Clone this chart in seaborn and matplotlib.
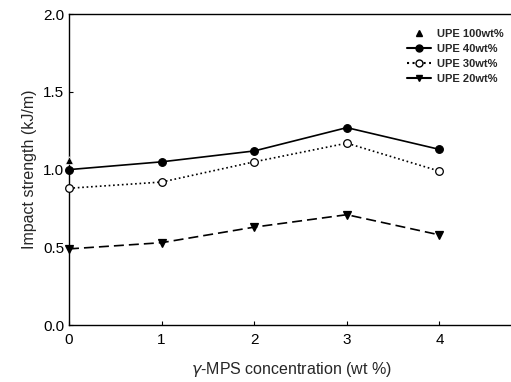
import matplotlib
matplotlib.use("Agg")
import matplotlib.pyplot as plt
import numpy as np
import pandas as pd
import seaborn as sns
from matplotlib.lines import Line2D

# --- data ---
conc = [0, 1, 2, 3, 4]
upe40 = [1.00, 1.05, 1.12, 1.27, 1.13]
upe30 = [0.88, 0.92, 1.05, 1.17, 0.99]
upe20 = [0.49, 0.53, 0.63, 0.71, 0.58]
upe100_x = [0]
upe100 = [1.06]

series = ["UPE 40wt%", "UPE 30wt%", "UPE 20wt%"]

df = pd.DataFrame({
    "conc": conc * 3,
    "impact": upe40 + upe30 + upe20,
    "sample": [s for s in series for _ in conc],
})
df100 = pd.DataFrame({"conc": upe100_x, "impact": upe100, "sample": "UPE 100wt%"})

sns.set_style("ticks")
plt.rcParams["font.family"] = ["Liberation Sans", "DejaVu Sans"]

fig = plt.figure(figsize=(5.11, 3.82), dpi=100)
ax = fig.add_axes([0.135, 0.149, 0.87, 0.814])

# single UPE 100 point
sns.scatterplot(data=df100, x="conc", y="impact", marker="^", color="black",
                s=30, ax=ax, legend=False, zorder=4, clip_on=False)

styles = {"UPE 40wt%": ("-", "o", "black"),
          "UPE 30wt%": (":", "o", "white"),
          "UPE 20wt%": ((0, (6, 3)), "v", "black")}
for name in series:
    ls, mk, fc = styles[name]
    sub = df[df["sample"] == name]
    sns.lineplot(data=sub, x="conc", y="impact", ax=ax, color="black",
                 linestyle=ls, linewidth=1.2, marker=mk, markersize=5.5,
                 markerfacecolor=fc, markeredgecolor="black",
                 markeredgewidth=0.9, legend=False, clip_on=False, zorder=3)

ax.set_xlim(0, 4.8)
ax.set_ylim(0, 2.0)
ax.set_xticks(conc)
ax.set_yticks([0.0, 0.5, 1.0, 1.5, 2.0])
ax.set_yticklabels(["0.0", "0.5", "1.0", "1.5", "2.0"])
ax.tick_params(direction="in", length=3, width=0.8, labelsize=11, colors="black")
ax.tick_params(axis="x", pad=6)
ax.spines["right"].set_visible(False)
for sp in ["left", "bottom", "top"]:
    ax.spines[sp].set_linewidth(1.0)
    ax.spines[sp].set_color("black")

ax.set_xlabel("$\\gamma$-MPS concentration (wt %)", fontsize=11.5, labelpad=9)
ax.set_ylabel("Impact strength (kJ/m)", fontsize=11.5, labelpad=4)

# legend built from proxy handles
handles = [
    Line2D([], [], color="black", linestyle="none", marker="^", markersize=5),
    Line2D([], [], color="black", linestyle="-", marker="o", markersize=5),
    Line2D([], [], color="black", linestyle=":", marker="o", markersize=5,
           markerfacecolor="white"),
    Line2D([], [], color="black", linestyle="-", marker="v", markersize=5),
]
labels = ["UPE 100wt%"] + series
ax.legend(handles, labels, loc="upper right", bbox_to_anchor=(1.0, 0.985),
          frameon=False, handlelength=2.2, handletextpad=0.5,
          labelspacing=0.45, prop={"weight": "bold", "size": 8})

fig.savefig("out.png", dpi=100)
